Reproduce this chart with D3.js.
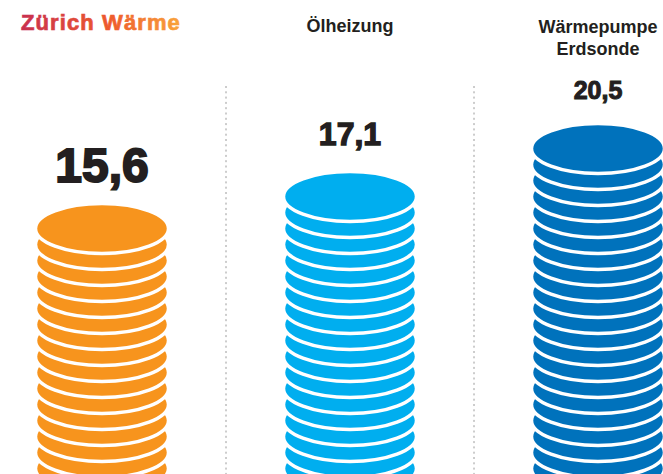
<!DOCTYPE html>
<html>
<head>
<meta charset="utf-8">
<script src="https://cdn.jsdelivr.net/npm/d3@7"></script>
<style>
  html, body { margin: 0; padding: 0; background: #fff; }
  svg { display: block; }
</style>
</head>
<body>
<div id="chart"></div>
<script>
// Daten
const title = "Zürich Wärme";
const categories = [["Zürich Wärme"], ["Ölheizung"], ["Wärmepumpe", "Erdsonde"]];
const values = [15.6, 17.1, 20.5];
const valueLabels = ["15,6", "17,1", "20,5"];

// Stil
const coinColors = ["#f7941d", "#00aeef", "#0072bc"];
const valueFontSizes = [48, 32, 25];

const width = 663, height = 474;

const svg = d3.select("#chart").append("svg")
    .attr("width", width)
    .attr("height", height)
    .attr("viewBox", `0 0 ${width} ${height}`);

// Farbverlauf für den Titel
const defs = svg.append("defs");
const grad = defs.append("linearGradient")
    .attr("id", "titleGrad")
    .attr("x1", "0%").attr("x2", "100%").attr("y1", "0%").attr("y2", "0%");
grad.append("stop").attr("offset", "0%").attr("stop-color", "#c8304e");
grad.append("stop").attr("offset", "55%").attr("stop-color", "#ee5a2c");
grad.append("stop").attr("offset", "100%").attr("stop-color", "#f9a43c");

// Spalten
const x = d3.scaleBand()
    .domain(d3.range(categories.length))
    .range([-22, 722])
    .padding(0);

// Münzstapel: eine Münze pro angefangene Einheit
const coinStep = 16;
const coinY = d3.scaleLinear()
    .domain([0, 1])
    .range([468.5, 468.5 - coinStep]);

const rx = 66.5, ry = 25;

// Trennlinien
svg.selectAll(".divider")
    .data(d3.range(1, categories.length))
    .enter()
    .append("line")
    .attr("class", "divider")
    .attr("x1", d => x(d))
    .attr("x2", d => x(d))
    .attr("y1", 86)
    .attr("y2", height)
    .attr("stroke", "#9a9a9a")
    .attr("stroke-width", 1)
    .attr("stroke-dasharray", "2,3.3");

values.forEach((v, i) => {
    const cx = x(i) + x.bandwidth() / 2;
    const n = Math.ceil(v);
    const coins = d3.range(n);

    const g = svg.append("g").attr("class", "stack");
    g.selectAll("ellipse")
        .data(coins)
        .enter()
        .append("ellipse")
        .attr("class", "mark")
        .attr("cx", cx)
        .attr("cy", d => coinY(d))
        .attr("rx", rx)
        .attr("ry", ry)
        .attr("fill", coinColors[i])
        .attr("stroke", "#fff")
        .attr("stroke-width", 3.5);

    // Wert über dem Stapel
    const topY = coinY(n - 1) - ry;
    svg.append("text")
        .attr("class", "value")
        .attr("x", cx)
        .attr("y", topY - [22, 27, 25][i])
        .attr("text-anchor", "middle")
        .attr("font-family", "Liberation Sans, Arial, sans-serif")
        .attr("font-weight", "bold")
        .attr("font-size", valueFontSizes[i])
        .attr("fill", "#231f20")
        .attr("stroke", "#231f20")
        .attr("stroke-width", valueFontSizes[i] / 24)
        .text(valueLabels[i]);

    // Kategorie-Beschriftung (erste Spalte = Titel)
    if (i > 0) {
        const lines = categories[i];
        const t = svg.append("text")
            .attr("class", "label")
            .attr("text-anchor", "middle")
            .attr("font-family", "Liberation Sans, Arial, sans-serif")
            .attr("font-weight", "bold")
            .attr("font-size", 18)
            .attr("fill", "#231f20");
        lines.forEach((line, j) => {
            t.append("tspan")
                .attr("x", cx)
                .attr("y", (lines.length > 1 ? 33 : 32) + j * 22)
                .text(line);
        });
    }
});

// Titel
svg.append("text")
    .attr("class", "title")
    .attr("x", 21)
    .attr("y", 29.5)
    .attr("font-family", "Liberation Sans, Arial, sans-serif")
    .attr("font-weight", "bold")
    .attr("font-size", 22)
    .attr("letter-spacing", 1.1)
    .attr("fill", "url(#titleGrad)")
    .attr("stroke", "url(#titleGrad)")
    .attr("stroke-width", 0.7)
    .text(title);
</script>
</body>
</html>
